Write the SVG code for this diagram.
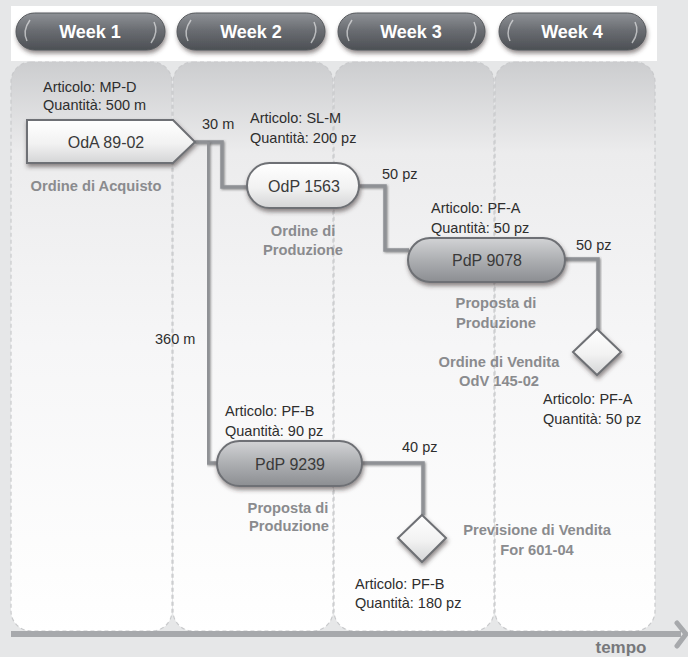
<svg xmlns="http://www.w3.org/2000/svg" width="688" height="657" viewBox="0 0 688 657">
<defs>
  <linearGradient id="colGrad" x1="0" y1="0" x2="0" y2="1">
    <stop offset="0" stop-color="#cccdcf"/>
    <stop offset="0.16" stop-color="#ececed"/>
    <stop offset="0.5" stop-color="#f6f6f7"/>
    <stop offset="0.9" stop-color="#fdfdfd"/>
    <stop offset="1" stop-color="#ffffff"/>
  </linearGradient>
  <linearGradient id="weekGrad" x1="0" y1="0" x2="0" y2="1">
    <stop offset="0" stop-color="#8e9196"/>
    <stop offset="0.45" stop-color="#6b6e73"/>
    <stop offset="1" stop-color="#4c4f54"/>
  </linearGradient>
  <linearGradient id="lightGrad" x1="0" y1="0" x2="0" y2="1">
    <stop offset="0" stop-color="#ffffff"/>
    <stop offset="0.55" stop-color="#f2f2f2"/>
    <stop offset="1" stop-color="#d4d5d6"/>
  </linearGradient>
  <linearGradient id="darkGrad" x1="0" y1="0" x2="0" y2="1">
    <stop offset="0" stop-color="#d2d3d5"/>
    <stop offset="0.5" stop-color="#adafb2"/>
    <stop offset="1" stop-color="#8c8e92"/>
  </linearGradient>
  <filter id="shadow" x="-20%" y="-30%" width="140%" height="170%">
    <feDropShadow dx="1" dy="3" stdDeviation="2" flood-color="#3a2f2f" flood-opacity="0.55"/>
  </filter>
  <filter id="lineShadow" x="-10%" y="-10%" width="120%" height="120%">
    <feDropShadow dx="1" dy="1" stdDeviation="0.8" flood-color="#333" flood-opacity="0.5"/>
  </filter>
</defs>
<style>
  .col { fill: url(#colGrad); stroke: #c9cacc; stroke-width: 1.2; stroke-dasharray: 4 3; }
  .week { fill: url(#weekGrad); stroke: #55585c; stroke-width: 1; filter: url(#shadow); }
  .weekHi { fill: none; stroke: #ffffff; stroke-opacity: 0.55; stroke-width: 1.5; }
  .weekTxt { font-family: "Liberation Sans", Arial, sans-serif; font-weight: bold; font-size: 18px; fill: #ffffff; text-anchor: middle; }
  .light { fill: url(#lightGrad); stroke: #6e7074; stroke-width: 2; filter: url(#shadow); }
  .dark { fill: url(#darkGrad); stroke: #6e7074; stroke-width: 2; filter: url(#shadow); }
  .nodeTxt { font-family: "Liberation Sans", Arial, sans-serif; font-size: 16px; fill: #3a3a3a; text-anchor: middle; }
  .info { font-family: "Liberation Sans", Arial, sans-serif; font-size: 14.5px; fill: #2e2e2e; }
  .cap { font-family: "Liberation Sans", Arial, sans-serif; font-weight: bold; font-size: 14.7px; fill: #8a8b8e; text-anchor: middle; }
  .conn { fill: none; stroke: #8f9195; stroke-width: 3.5; filter: url(#lineShadow); }
  .qty { font-family: "Liberation Sans", Arial, sans-serif; font-size: 14.5px; fill: #2e2e2e; }
</style>

<rect x="0" y="0" width="688" height="657" fill="#e6e7e8"/>
<rect x="11" y="6" width="646" height="55" fill="#ffffff"/>

<g id="columns">
  <rect class="col" x="11" y="62" width="161" height="569" rx="20"/>
  <rect class="col" x="173" y="62" width="160" height="569" rx="20"/>
  <rect class="col" x="334" y="62" width="160" height="569" rx="20"/>
  <rect class="col" x="495" y="62" width="160" height="569" rx="20"/>
</g>

<g id="week1">
  <rect class="week" x="16" y="13" width="149" height="37" rx="18.5"/>
  <path class="weekHi" d="M27 41 Q22 31 30 20"/>
  <path class="weekHi" d="M154 22 Q159 32 151 43"/>
  <text class="weekTxt" x="90" y="38">Week 1</text>
</g>
<g id="week2">
  <rect class="week" x="177" y="13" width="148" height="37" rx="18.5"/>
  <path class="weekHi" d="M188 41 Q183 31 191 20"/>
  <path class="weekHi" d="M314 22 Q319 32 311 43"/>
  <text class="weekTxt" x="251" y="38">Week 2</text>
</g>
<g id="week3">
  <rect class="week" x="338" y="13" width="147" height="37" rx="18.5"/>
  <path class="weekHi" d="M349 41 Q344 31 352 20"/>
  <path class="weekHi" d="M474 22 Q479 32 471 43"/>
  <text class="weekTxt" x="411" y="38">Week 3</text>
</g>
<g id="week4">
  <rect class="week" x="499" y="13" width="147" height="37" rx="18.5"/>
  <path class="weekHi" d="M510 41 Q505 31 513 20"/>
  <path class="weekHi" d="M635 22 Q640 32 632 43"/>
  <text class="weekTxt" x="572" y="38">Week 4</text>
</g>

<g id="connectors">
  <polyline class="conn" points="195,142 222,142 222,187 248,187"/>
  <polyline class="conn" points="208,142 208,463 218,463"/>
  <polyline class="conn" points="359,186 385,186 385,250 409,250"/>
  <polyline class="conn" points="564,259 598,259 598,330"/>
  <polyline class="conn" points="361,463 423,463 423,515"/>
  <text class="qty" x="202" y="129">30 m</text>
  <text class="qty" x="155" y="344">360 m</text>
  <text class="qty" x="382" y="179">50 pz</text>
  <text class="qty" x="576" y="250">50 pz</text>
  <text class="qty" x="402" y="452">40 pz</text>
</g>

<g id="oda">
  <text class="info" x="43" y="92">Articolo: MP-D</text>
  <text class="info" x="43" y="110">Quantità: 500 m</text>
  <path class="light" d="M27 120 L173 120 L195 142 L173 163 L27 163 Z"/>
  <text class="nodeTxt" x="106" y="148">OdA 89-02</text>
  <text class="cap" x="96" y="191">Ordine di Acquisto</text>
</g>

<g id="odp">
  <text class="info" x="250" y="123">Articolo: SL-M</text>
  <text class="info" x="250" y="143">Quantità: 200 pz</text>
  <rect class="light" x="247" y="163" width="112" height="45" rx="22.5"/>
  <text class="nodeTxt" x="304" y="192">OdP 1563</text>
  <text class="cap" x="303" y="236">Ordine di</text>
  <text class="cap" x="303" y="255">Produzione</text>
</g>

<g id="pdp9078">
  <text class="info" x="431" y="213">Articolo: PF-A</text>
  <text class="info" x="431" y="233">Quantità: 50 pz</text>
  <rect class="dark" x="408" y="238" width="157" height="44" rx="22"/>
  <text class="nodeTxt" x="487" y="266">PdP 9078</text>
  <text class="cap" x="496" y="308">Proposta di</text>
  <text class="cap" x="496" y="328">Produzione</text>
</g>

<g id="odv">
  <path class="light" d="M597 329 L621 352 L597 375 L573 352 Z"/>
  <text class="cap" x="499" y="367">Ordine di Vendita</text>
  <text class="cap" x="499" y="386">OdV 145-02</text>
  <text class="info" x="543" y="404">Articolo: PF-A</text>
  <text class="info" x="543" y="424">Quantità: 50 pz</text>
</g>

<g id="pdp9239">
  <text class="info" x="225" y="416">Articolo: PF-B</text>
  <text class="info" x="225" y="436">Quantità: 90 pz</text>
  <rect class="dark" x="217" y="441" width="145" height="45" rx="22.5"/>
  <text class="nodeTxt" x="290" y="470">PdP 9239</text>
  <text class="cap" x="288" y="513">Proposta di</text>
  <text class="cap" x="289" y="531">Produzione</text>
</g>

<g id="for">
  <path class="light" d="M422 515 L446 538 L422 562 L398 538 Z"/>
  <text class="cap" x="537" y="535">Previsione di Vendita</text>
  <text class="cap" x="537" y="555">For 601-04</text>
  <text class="info" x="355" y="589">Articolo: PF-B</text>
  <text class="info" x="355" y="608">Quantità: 180 pz</text>
</g>

<g id="time-axis">
  <rect x="11" y="631" width="670" height="6" fill="#a7a9ac"/>
  <polyline points="677,623 686,634 677,646" fill="none" stroke="#a7a9ac" stroke-width="5" stroke-linecap="round" stroke-linejoin="round"/>
  <text x="621" y="653" font-family="'Liberation Sans', Arial, sans-serif" font-weight="bold" font-size="17px" fill="#77787b" text-anchor="middle">tempo</text>
</g>
</svg>
